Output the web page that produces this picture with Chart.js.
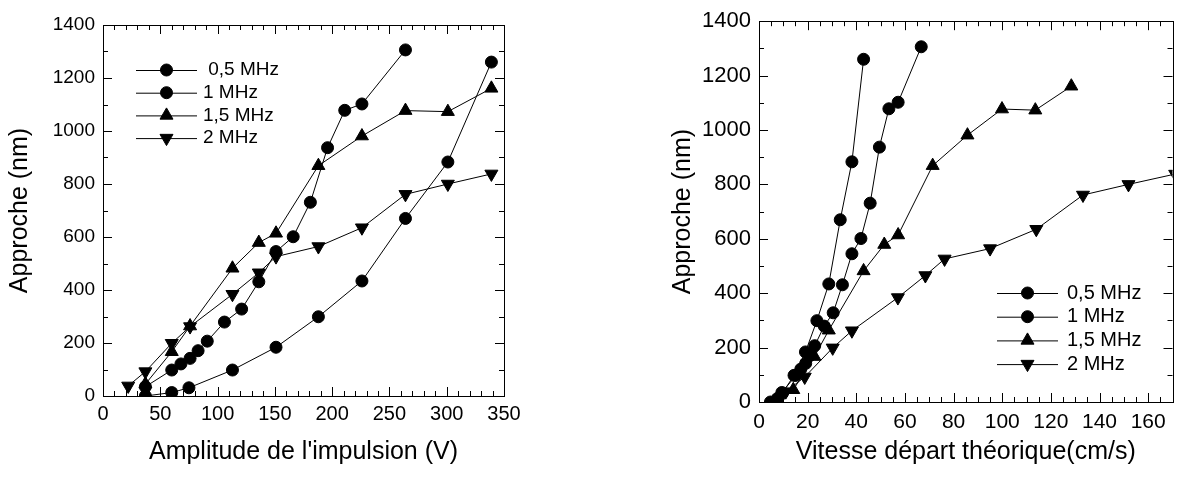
<!DOCTYPE html>
<html>
<head>
<meta charset="utf-8">
<script src="https://cdn.jsdelivr.net/npm/chart.js@4.4.1/dist/chart.umd.min.js"></script>
<style>
  body { margin: 0; background: #fff; }
  #wrap { position: relative; width: 1181px; height: 478px; }
  canvas { position: absolute; top: 0; }
  #cLeft  { left: 0; }
  #cRight { left: 600px; }
</style>
</head>
<body>
<div id="wrap">
  <canvas id="cLeft" width="600" height="478"></canvas>
  <canvas id="cRight" width="581" height="478"></canvas>
</div>
<script>
/* Approche vs amplitude (left) and vs theoretical starting speed (right) */

const LABELS = [' 0,5 MHz', '1 MHz', '1,5 MHz', '2 MHz'];

// left panel : Amplitude de l'impulsion (V)
const ampl05 = [37, 60, 75, 113, 151, 188, 226, 264, 301, 339];
const ampl1  = [37, 60, 68, 76, 83, 91, 106, 121, 136, 151, 166, 181, 196, 211, 226, 264];
const ampl15 = [37, 60, 76, 113, 136, 151, 188, 226, 264, 301, 339];
const ampl2  = [22, 37, 60, 76, 113, 136, 151, 188, 226, 264, 301, 339];

// right panel : Vitesse départ théorique (cm/s)
const vit05 = [4.7, 7.6, 9.5, 14.4, 19.1, 23.8, 28.7, 33.4, 38.2, 43.0];
const vit1  = [9.4, 15.2, 17.2, 19.2, 21.0, 22.9, 26.8, 30.5, 34.3, 38.2, 41.9, 45.7, 49.5, 53.4, 57.2, 66.7];
const vit15 = [14.1, 22.8, 28.7, 43.0, 51.5, 57.2, 71.4, 85.7, 99.9, 113.6, 128.4];
const vit2  = [11.0, 18.8, 30.3, 38.2, 57.1, 68.4, 76.3, 95.0, 114.0, 133.2, 151.9, 171.1];

// Approche (nm), shared by both panels
const appr05 = [0, 13, 31, 98, 184, 299, 434, 670, 883, 1260];
const appr1  = [35, 98, 121, 142, 171, 207, 279, 328, 431, 545, 601, 731, 937, 1078, 1102, 1306];
const appr15 = [45, 167, 264, 482, 579, 614, 869, 981, 1077, 1073, 1161];
const appr2  = [38, 92, 199, 262, 384, 465, 526, 564, 635, 761, 800, 838];

const FONT = '"Liberation Sans", Arial, Helvetica, sans-serif';

const zip = (xs, ys) => xs.map((v, i) => ({ x: v, y: ys[i] }));

function series(label, xs, ys, style, rot, radius) {
  return {
    label,
    data: zip(xs, ys),
    showLine: true,
    borderColor: '#000',
    borderWidth: 1,
    backgroundColor: '#000',
    pointBackgroundColor: '#000',
    pointBorderColor: '#000',
    pointBorderWidth: 1,
    pointStyle: style,
    pointRotation: rot,
    pointRadius: radius,
    pointHoverRadius: radius,
  };
}

/* frame + inward ticks on all four sides */
const frameTicks = {
  id: 'frameTicks',
  afterDatasetsDraw(chart, args, o) {
    const { ctx, chartArea: a, scales: { x, y } } = chart;
    ctx.save();
    ctx.strokeStyle = '#000';
    ctx.lineWidth = 1;
    ctx.beginPath();
    for (let v = x.min; v <= x.max + 1e-6; v += o.xMinor) {
      const len = Math.abs(v / o.xMajor - Math.round(v / o.xMajor)) < 1e-6 ? 9 : 5;
      const px = Math.round(x.getPixelForValue(v)) + 0.5;
      ctx.moveTo(px, a.bottom); ctx.lineTo(px, a.bottom - len);
      ctx.moveTo(px, a.top);    ctx.lineTo(px, a.top + len);
    }
    for (let v = y.min; v <= y.max + 1e-6; v += o.yMinor) {
      const len = Math.abs(v / o.yMajor - Math.round(v / o.yMajor)) < 1e-6 ? 9 : 5;
      const py = Math.round(y.getPixelForValue(v)) + 0.5;
      ctx.moveTo(a.left, py);  ctx.lineTo(a.left + len, py);
      ctx.moveTo(a.right, py); ctx.lineTo(a.right - len, py);
    }
    ctx.stroke();
    ctx.strokeRect(Math.round(a.left) + 0.5, Math.round(a.top) + 0.5,
                   Math.round(a.width), Math.round(a.height));
    ctx.restore();
  }
};

/* legend drawn inside the plot: line, marker, text */
const insetLegend = {
  id: 'insetLegend',
  afterDraw(chart, args, o) {
    const ctx = chart.ctx;
    ctx.save();
    ctx.font = o.size + 'px ' + FONT;
    ctx.textBaseline = 'middle';
    ctx.fillStyle = '#000';
    ctx.strokeStyle = '#000';
    chart.data.datasets.forEach((ds, i) => {
      const yy = o.top + i * o.gap;
      ctx.lineWidth = 1;
      ctx.beginPath();
      ctx.moveTo(o.x0, yy + 0.5);
      ctx.lineTo(o.x1, yy + 0.5);
      ctx.stroke();
      Chart.helpers.drawPoint(ctx, {
        pointStyle: ds.pointStyle, rotation: ds.pointRotation,
        radius: ds.pointRadius, borderWidth: 1
      }, (o.x0 + o.x1) / 2, yy);
      ctx.fillText(ds.label, o.textX, yy);
    });
    ctx.restore();
  }
};

const plain = (v) => String(v);

function makePanel(id, cfg) {
  return new Chart(document.getElementById(id), {
    type: 'scatter',
    data: { datasets: cfg.datasets },
    options: {
      responsive: false,
      animation: false,
      devicePixelRatio: 1,
      layout: { padding: cfg.padding },
      plugins: {
        legend: { display: false },
        tooltip: { enabled: false },
        frameTicks: cfg.ticks,
        insetLegend: cfg.legend,
      },
      scales: {
        x: {
          type: 'linear',
          min: 0, max: cfg.xMax,
          grid: { display: false, drawTicks: false },
          border: { display: false },
          ticks: {
            stepSize: cfg.ticks.xMajor, includeBounds: false,
            color: '#000', padding: cfg.xTickPad, callback: plain,
            font: { family: FONT, size: cfg.xTickSize },
          },
          title: {
            display: true, text: cfg.xTitle, color: '#000',
            font: { family: FONT, size: 25 },
            padding: { top: 0, bottom: 11 },
          },
          afterFit: (s) => { s.height = cfg.xHeight; },
        },
        y: {
          type: 'linear',
          min: 0, max: 1400,
          grid: { display: false, drawTicks: false },
          border: { display: false },
          ticks: {
            stepSize: 200, color: '#000', padding: 8, callback: plain,
            font: { family: FONT, size: cfg.yTickSize },
          },
          title: {
            display: true, text: 'Approche (nm)', color: '#000',
            font: { family: FONT, size: 25 },
            padding: { top: cfg.yTitlePad, bottom: 0 },
          },
          afterFit: (s) => { s.width = cfg.yWidth; },
        },
      },
    },
    plugins: [frameTicks, insetLegend],
  });
}

makePanel('cLeft', {
  datasets: [
    series(LABELS[0], ampl05, appr05, 'circle', 0, 6),
    series(LABELS[1], ampl1,  appr1,  'circle', 0, 6),
    series(LABELS[2], ampl15, appr15, 'triangle', 0, 7.5),
    series(LABELS[3], ampl2,  appr2,  'triangle', 180, 7.5),
  ],
  padding: { left: 0, top: 25, right: 96, bottom: 0 },
  xMax: 350,
  xTitle: "Amplitude de l'impulsion (V)",
  xHeight: 82, yWidth: 103, yTitlePad: 5,
  xTickSize: 20, yTickSize: 19, xTickPad: 6,
  ticks: { xMajor: 50, xMinor: 10, yMajor: 200, yMinor: 100 },
  legend: { x0: 136, x1: 197, textX: 203, top: 70, gap: 22.7, size: 19 },
});

makePanel('cRight', {
  datasets: [
    series(LABELS[0].trim(), vit05, appr05, 'circle', 0, 6),
    series(LABELS[1], vit1,  appr1,  'circle', 0, 6),
    series(LABELS[2], vit15, appr15, 'triangle', 0, 7.5),
    Object.assign(series(LABELS[3], vit2, appr2, 'triangle', 180, 7.5),
                  { clip: { left: 10, top: 10, right: 0, bottom: 10 } }),
  ],
  padding: { left: 68, top: 18, right: 4, bottom: 0 },
  xMax: 170,
  xTitle: 'Vitesse départ théorique(cm/s)',
  xHeight: 76, yWidth: 91, yTitlePad: 0,
  xTickSize: 21, yTickSize: 22, xTickPad: 8,
  ticks: { xMajor: 20, xMinor: 5, yMajor: 200, yMinor: 100 },
  legend: { x0: 397, x1: 458, textX: 467, top: 293, gap: 23.7, size: 20 },
});
</script>
</body>
</html>
